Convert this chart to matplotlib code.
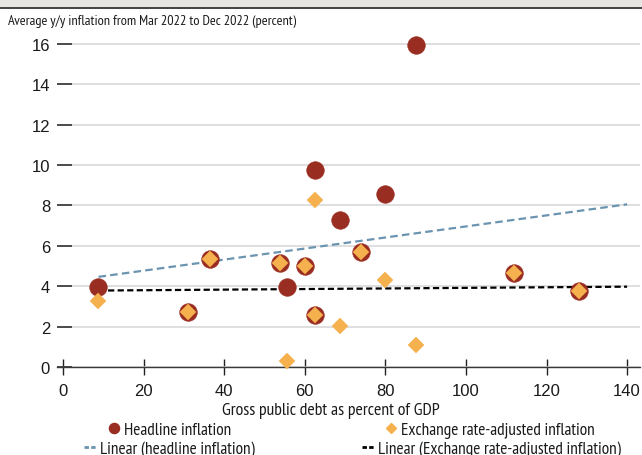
import numpy as np
import matplotlib.pyplot as plt
from matplotlib.lines import Line2D
from matplotlib.patches import Rectangle

# Data
debt = [8.8, 31.0, 36.4, 53.8, 60.1, 55.6, 62.6, 62.6, 68.8, 73.9, 79.9, 87.7, 112.0, 128.0]
headline = [3.95, 2.71, 5.36, 5.16, 4.98, 3.95, 9.77, 2.57, 7.29, 5.69, 8.58, 15.94, 4.65, 3.75]
fx_adjusted = [3.28, 2.71, 5.36, 5.16, 4.98, 0.31, 8.27, 2.57, 2.03, 5.69, 4.31, 1.10, 4.65, 3.75]
trend_end = 140
x_ticks = [0, 20, 40, 60, 80, 100, 120, 140]
y_ticks = [0, 2, 4, 6, 8, 10, 12, 14, 16]

title = 'Average y/y inflation from Mar 2022 to Dec 2022 (percent)'
xlabel = 'Gross public debt as percent of GDP'
labels = ['Headline inflation', 'Exchange rate-adjusted inflation',
          'Linear (headline inflation)', 'Linear (Exchange rate-adjusted inflation)']

RED = '#9a2d21'
ORANGE = '#f5b14e'
BLUE = '#6b94b1'
NARROW = ['PT Sans Narrow', 'Roboto Condensed', 'Liberation Sans', 'DejaVu Sans']

plt.rcParams['font.family'] = ['Liberation Sans', 'DejaVu Sans']

W, H = 642, 456
fig = plt.figure(figsize=(W / 100, H / 100), dpi=100)

# Top band
fig.patches.append(Rectangle((0, 1 - 8 / H), 1, 8 / H, transform=fig.transFigure,
                             facecolor='#e6e5e2', edgecolor='none'))
fig.lines.append(Line2D([0, 1], [1 - 8.5 / H, 1 - 8.5 / H], transform=fig.transFigure,
                        color='#333333', linewidth=1.3))

ax = fig.add_axes([57 / W, (H - 368) / H, (640 - 57) / W, (368 - 32.8) / H])

# Trend lines from a least squares fit
xs = np.array([min(debt), trend_end])
p_head = np.polyfit(debt, headline, 1)
p_fx = np.polyfit(debt, fx_adjusted, 1)
ax.plot(xs, np.polyval(p_head, xs), color=BLUE, linewidth=1.6, dashes=(3.4, 1.9), zorder=2)
ax.plot(xs, np.polyval(p_fx, xs), color='black', linewidth=1.6, dashes=(2.8, 1.5), zorder=2)

ax.plot(debt, headline, linestyle='none', marker='o', markersize=12.6,
        markerfacecolor=RED, markeredgecolor=RED, markeredgewidth=0.5, zorder=3, clip_on=False)
ax.plot(debt, fx_adjusted, linestyle='none', marker='D', markersize=8.6,
        markerfacecolor=ORANGE, markeredgecolor=ORANGE, markeredgewidth=0.3, zorder=4, clip_on=False)

ax.set_xlim(-1.5, 143.2)
ax.set_ylim(0, 16.6)
ax.set_xticks(x_ticks)
ax.set_yticks(y_ticks)
ax.grid(axis='y', color='#d6d6d6', linewidth=1.1)
ax.set_axisbelow(True)
for s in ['left', 'top', 'right']:
    ax.spines[s].set_visible(False)
ax.spines['bottom'].set_color('#3a3a3a')
ax.spines['bottom'].set_linewidth(1.0)

ax.tick_params(axis='y', direction='in', length=11, width=1.1, color='#222222',
               pad=5, labelsize=12, labelcolor='#1a1a1a')
ax.tick_params(axis='x', direction='inout', length=11.5, width=1.0, color='#222222',
               pad=6, labelsize=12, labelcolor='#1a1a1a')

ax.set_xlabel(xlabel, family=NARROW, fontsize=12.8, color='#1a1a1a', va='center')
ax.xaxis.set_label_coords((331 - 57) / (640 - 57), -(411 - 368) / (368 - 32.8))

fig.text(8 / W, 1 - 22 / H, title, family=NARROW, fontsize=10.3, color='#1a1a1a', va='center')

handles = [
    Line2D([], [], linestyle='none', marker='o', markersize=7.3, color=RED),
    Line2D([], [], linestyle='none', marker='D', markersize=5.5, color=ORANGE),
    Line2D([], [], color=BLUE, linewidth=2, dashes=(1.6, 0.8)),
    Line2D([], [], color='black', linewidth=2, dashes=(1.6, 0.8)),
]
centers = [(169.5, 431), (490.5, 431), (169.5, 450), (491.5, 450)]
for h, lab, (cx, cy) in zip(handles, labels, centers):
    leg = fig.legend([h], [lab], loc='center', bbox_to_anchor=(cx / W, 1 - cy / H),
                     frameon=False, handlelength=0.65, handletextpad=0.25,
                     borderpad=0, borderaxespad=0, prop={'family': NARROW, 'size': 12.4})
    for t in leg.get_texts():
        t.set_color('#1a1a1a')

fig.savefig('out.png', dpi=100)
